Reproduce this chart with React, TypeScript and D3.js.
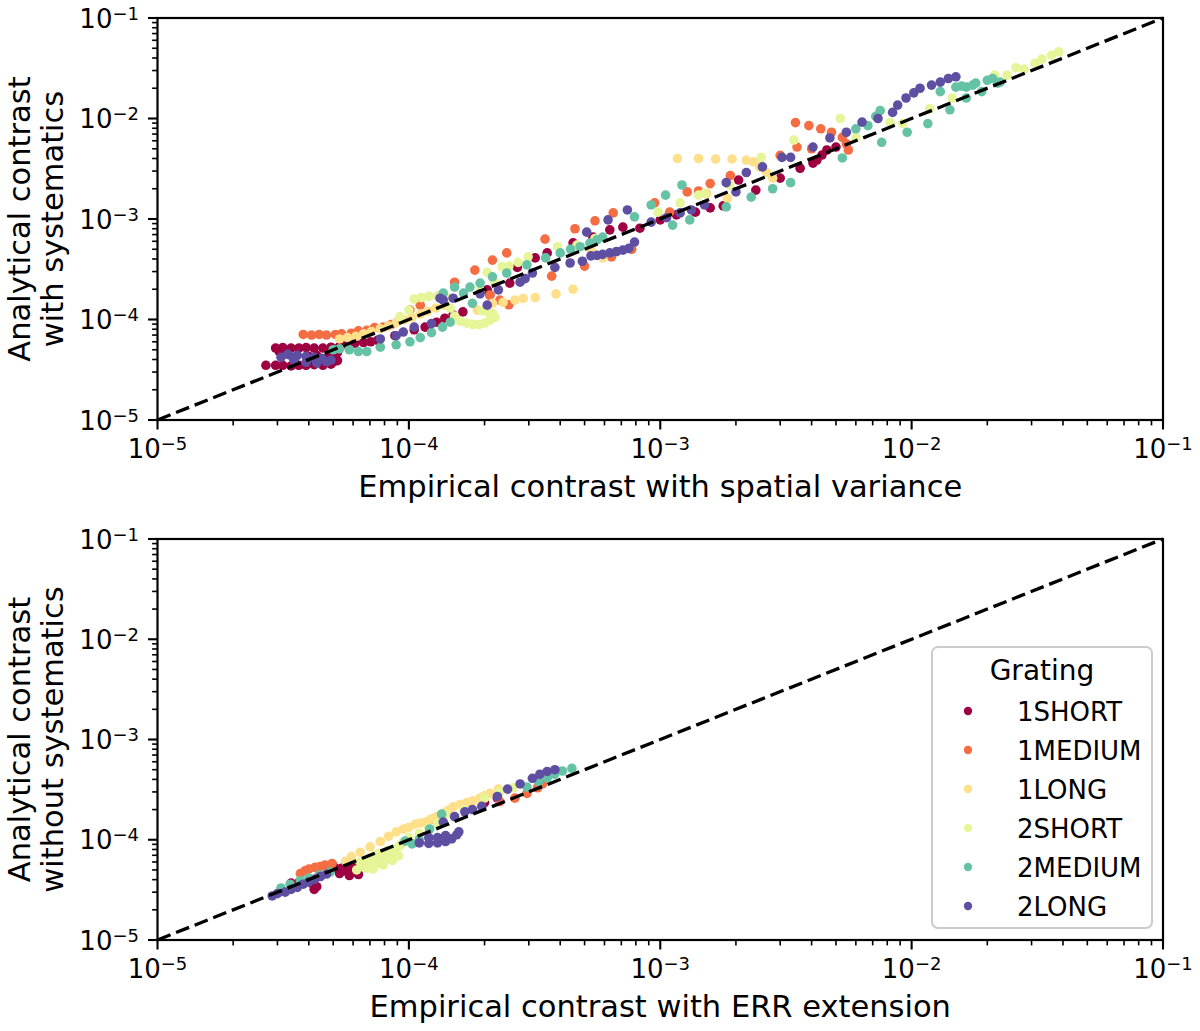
import * as d3 from 'd3';

type Pt = [number, number];

// legend order / hue colours (Spectral, 6 levels)
const gratings = ['1SHORT', '1MEDIUM', '1LONG', '2SHORT', '2MEDIUM', '2LONG'];
const colors = ['#9e0142', '#f46d43', '#fee08b', '#e6f598', '#66c2a5', '#5e4fa2'];
const decades = [1e-5, 1e-4, 1e-3, 1e-2, 1e-1];

// ---- top panel: empirical (spatial variance) vs analytical (with systematics)
const top1Short: Pt[] = [
  [2.7e-5, 3.5e-5], [2.95e-5, 3.5e-5], [3.15e-5, 3.5e-5], [3.4e-5, 3.45e-5], [3.65e-5, 3.5e-5], [3.9e-5, 3.5e-5],
  [4.2e-5, 3.55e-5], [4.55e-5, 3.5e-5], [4.9e-5, 3.6e-5],
  [2.95e-5, 5.2e-5], [3.15e-5, 5.25e-5], [3.4e-5, 5.2e-5], [3.65e-5, 5.2e-5], [3.9e-5, 5.25e-5], [4.2e-5, 5.2e-5],
  [4.55e-5, 5.2e-5], [4.9e-5, 5.3e-5], [5.3e-5, 5.4e-5], [5.6e-5, 5.7e-5], [6.1e-5, 5.8e-5], [6.6e-5, 5.9e-5],
  [7.05e-5, 6.0e-5], [7.5e-5, 6.2e-5],
  [4.3e-5, 4.4e-5], [4.7e-5, 4.1e-5], [5.1e-5, 4.3e-5], [4.55e-5, 3.8e-5], [4.0e-5, 4.3e-5], [5.2e-5, 3.9e-5],
  [4.9e-5, 4.6e-5], [5.2e-5, 4.7e-5], [4.4e-5, 3.9e-5], [5.0e-5, 3.8e-5], [3.05e-5, 4.8e-5],
  [8.8e-5, 6.9e-5], [1.05e-4, 7.9e-5], [1.16e-4, 8.4e-5], [1.29e-4, 9.4e-5], [1.39e-4, 1.03e-4], [1.5e-4, 1.11e-4],
  [1.64e-4, 1.19e-4], [2.05e-4, 1.97e-4], [2.1e-4, 1.75e-4], [2.52e-4, 2.3e-4], [2.7e-4, 3.3e-4], [3.18e-4, 4.1e-4],
  [3.55e-4, 4.6e-4], [4.5e-4, 5.8e-4], [5.4e-4, 6.6e-4], [6.3e-4, 7.8e-4], [7.1e-4, 8.3e-4], [8.3e-4, 8.1e-4],
  [1.0e-3, 9.8e-4], [1.16e-3, 1.1e-3], [1.38e-3, 1.17e-3], [1.58e-3, 1.29e-3], [1.78e-3, 1.35e-3], [2.05e-3, 2.44e-3],
  [2.4e-3, 1.94e-3], [3.0e-3, 2.55e-3], [3.6e-3, 3.2e-3], [4.05e-3, 3.6e-3], [4.2e-3, 3.86e-3], [4.4e-3, 4.33e-3],
  [4.6e-3, 4.86e-3], [5.0e-3, 5.2e-3],
];
const top1Medium: Pt[] = [
  [3.8e-5, 7.1e-5], [4.1e-5, 7.0e-5], [4.4e-5, 7.1e-5], [4.7e-5, 7.0e-5], [5.1e-5, 7.1e-5], [5.4e-5, 7.2e-5],
  [5.9e-5, 7.3e-5], [6.3e-5, 7.7e-5], [6.8e-5, 7.8e-5], [7.3e-5, 8.3e-5], [7.9e-5, 8.4e-5], [8.5e-5, 8.9e-5],
  [1.01e-4, 1.24e-4], [1.11e-4, 1.39e-4], [1.52e-4, 2.35e-4], [1.83e-4, 3.1e-4], [2.15e-4, 3.9e-4], [2.45e-4, 4.6e-4],
  [3.48e-4, 6.3e-4], [4.58e-4, 8.0e-4], [5.5e-4, 9.6e-4], [6.5e-4, 1.15e-3], [3.7e-4, 2.7e-4], [5.0e-4, 3.4e-4],
  [6.4e-4, 4.2e-4], [7.7e-4, 5.0e-4], [2.1e-4, 1.75e-4], [2.3e-4, 1.56e-4], [2.5e-4, 1.4e-4], [9.5e-4, 1.45e-3],
  [1.09e-3, 1.17e-3], [1.28e-3, 1.86e-3], [1.42e-3, 1.9e-3], [1.58e-3, 2.25e-3], [1.9e-3, 2.7e-3], [3.0e-3, 4.3e-3],
  [3.5e-3, 5.2e-3], [4.0e-3, 5.0e-3], [3.45e-3, 9.1e-3], [3.9e-3, 8.5e-3], [4.35e-3, 7.9e-3], [4.8e-3, 7.3e-3],
  [5.3e-3, 6.5e-3], [5.5e-3, 5.6e-3], [5.6e-3, 4.86e-3],
];
const top1Long: Pt[] = [
  [5.3e-5, 6.4e-5], [5.7e-5, 6.6e-5], [6.15e-5, 6.8e-5], [6.6e-5, 7.2e-5], [7.1e-5, 7.6e-5], [7.7e-5, 8.1e-5],
  [8.3e-5, 8.6e-5], [8.9e-5, 9.3e-5], [9.6e-5, 9.9e-5], [1.03e-4, 1.05e-4], [1.11e-4, 1.13e-4], [1.19e-4, 1.21e-4],
  [1.28e-4, 1.3e-4], [1.38e-4, 1.39e-4], [1.87e-4, 1.24e-4], [2.15e-4, 1.45e-4], [2.37e-4, 1.48e-4], [2.64e-4, 1.56e-4],
  [2.85e-4, 1.62e-4], [3.18e-4, 1.65e-4], [3.85e-4, 1.8e-4], [4.5e-4, 2.0e-4], [5.3e-4, 4.9e-4], [5.9e-4, 4.1e-4],
  [1.53e-3, 1.8e-3], [1.85e-3, 1.6e-3], [2.49e-3, 3.3e-3], [2.65e-3, 2.9e-3], [2.8e-3, 2.55e-3], [1.17e-3, 4.0e-3],
  [1.42e-3, 4.0e-3], [1.66e-3, 3.95e-3], [1.93e-3, 3.95e-3], [2.2e-3, 3.86e-3], [2.35e-3, 3.7e-3],
];
const top2Short: Pt[] = [
  [9.2e-5, 1.07e-4], [1.0e-4, 1.24e-4], [1.05e-4, 1.6e-4], [1.12e-4, 1.65e-4], [1.2e-4, 1.7e-4], [1.3e-4, 1.72e-4],
  [1.4e-4, 1.7e-4], [1.46e-4, 1.3e-4], [1.52e-4, 1.08e-4], [1.6e-4, 9.6e-5], [1.7e-4, 9.2e-5], [1.8e-4, 8.9e-5],
  [1.9e-4, 8.9e-5], [2.0e-4, 9.2e-5], [2.1e-4, 9.8e-5], [2.2e-4, 1.05e-4], [2.15e-4, 1.15e-4], [2.05e-4, 1.2e-4],
  [1.95e-4, 1.22e-4], [1.92e-4, 1.97e-4], [2.05e-4, 2.95e-4], [2.2e-4, 2.35e-4], [2.35e-4, 3.35e-4], [2.5e-4, 3.4e-4],
  [2.72e-4, 3.7e-4], [2.98e-4, 4.2e-4], [3.9e-4, 5.3e-4], [4.66e-4, 5.5e-4], [5.5e-4, 6.4e-4], [9.8e-4, 1.17e-3],
  [1.2e-3, 1.45e-3], [1.42e-3, 1.73e-3], [1.5e-3, 1.8e-3], [1.89e-3, 2.18e-3], [2.52e-3, 4.1e-3], [3.4e-3, 6.1e-3],
  [5.2e-3, 1.0e-2], [6.0e-3, 6.5e-3], [8.2e-3, 9.1e-3], [9.2e-3, 8.9e-3], [1.18e-2, 1.25e-2], [1.45e-2, 1.6e-2],
  [2.14e-2, 2.7e-2], [2.4e-2, 2.7e-2], [2.6e-2, 3.2e-2], [2.8e-2, 3.1e-2], [3.1e-2, 3.55e-2], [3.3e-2, 3.9e-2],
  [3.6e-2, 4.25e-2], [3.85e-2, 4.6e-2],
];
const top2Medium: Pt[] = [
  [5.0e-5, 5.0e-5], [5.3e-5, 5.1e-5], [5.8e-5, 5.0e-5], [6.3e-5, 4.8e-5], [6.8e-5, 4.8e-5], [7.7e-5, 5.3e-5],
  [8.9e-5, 5.6e-5], [1.01e-4, 6.0e-5], [1.11e-4, 6.6e-5], [1.23e-4, 7.4e-5], [1.36e-4, 8.4e-5], [1.46e-4, 9.4e-5],
  [1.37e-4, 1.83e-4], [1.52e-4, 2.1e-4], [1.65e-4, 1.83e-4], [1.75e-4, 2.1e-4], [1.92e-4, 2.3e-4], [1.79e-4, 1.45e-4],
  [2.15e-4, 2.66e-4], [2.45e-4, 2.9e-4], [2.95e-4, 3.5e-4], [3.5e-4, 4.1e-4], [4.0e-4, 4.6e-4], [4.4e-4, 5.0e-4],
  [4.8e-4, 5.3e-4], [5.25e-4, 5.75e-4], [5.6e-4, 6.2e-4], [5.9e-4, 6.6e-4], [7.9e-4, 1.05e-3], [9.2e-4, 1.38e-3],
  [1.05e-3, 1.73e-3], [1.22e-3, 2.18e-3], [1.12e-3, 8.7e-4], [1.31e-3, 9.8e-4], [1.83e-3, 1.32e-3], [2.3e-3, 1.65e-3],
  [2.8e-3, 2.0e-3], [3.3e-3, 2.3e-3], [5.3e-3, 4.05e-3], [6.0e-3, 7.9e-3], [6.7e-3, 8.5e-3], [7.2e-3, 1.05e-2],
  [7.5e-3, 1.2e-2], [7.6e-3, 5.8e-3], [9.6e-3, 7.3e-3], [1.16e-2, 8.9e-3], [1.42e-2, 1.22e-2], [1.3e-2, 1.85e-2],
  [1.5e-2, 2.05e-2], [1.65e-2, 1.6e-2], [1.65e-2, 2.05e-2], [1.8e-2, 2.25e-2], [1.9e-2, 1.85e-2], [2.0e-2, 2.4e-2],
  [2.1e-2, 2.5e-2], [2.2e-2, 2.25e-2], [1.75e-2, 2.15e-2], [1.58e-2, 2.1e-2], [2.25e-2, 2.3e-2],
];
const top2Long: Pt[] = [
  [3.1e-5, 4.2e-5], [3.3e-5, 4.5e-5], [3.45e-5, 4.2e-5], [3.6e-5, 4.4e-5], [3.9e-5, 4.3e-5], [4.2e-5, 4.2e-5],
  [4.5e-5, 4.1e-5], [3.5e-5, 3.9e-5], [3.9e-5, 3.75e-5], [4.3e-5, 3.7e-5], [4.7e-5, 3.8e-5], [4.9e-5, 3.95e-5],
  [7.7e-5, 6.4e-5], [8.9e-5, 6.9e-5], [9.5e-5, 7.5e-5], [1.05e-4, 8.4e-5], [1.23e-4, 9.1e-5], [1.33e-4, 1.63e-4],
  [1.37e-4, 1.56e-4], [1.5e-4, 1.63e-4], [1.92e-4, 1.8e-4], [2.05e-4, 1.39e-4], [2.27e-4, 1.97e-4], [2.77e-4, 2.35e-4],
  [2.9e-4, 2.55e-4], [3.1e-4, 2.9e-4], [3.81e-4, 3.3e-4], [4.38e-4, 3.65e-4], [4.9e-4, 3.8e-4], [5.1e-4, 7.4e-4],
  [6.2e-4, 9.8e-4], [5.3e-4, 4.3e-4], [5.6e-4, 4.35e-4], [5.9e-4, 4.45e-4], [6.3e-4, 4.6e-4], [6.7e-4, 4.75e-4],
  [7.1e-4, 4.9e-4], [7.5e-4, 5.1e-4], [7.4e-4, 1.23e-3], [7.9e-4, 5.9e-4], [9.2e-4, 9.3e-4], [1.06e-3, 1.03e-3],
  [1.2e-3, 1.15e-3], [1.33e-3, 1.23e-3], [1.5e-3, 1.38e-3], [1.83e-3, 2.3e-3], [2.0e-3, 1.86e-3], [2.2e-3, 2.9e-3],
  [2.55e-3, 3.3e-3], [3.05e-3, 4.1e-3], [3.3e-3, 4.1e-3], [4.05e-3, 5.2e-3], [4.73e-3, 6.4e-3], [5.5e-3, 7.3e-3],
  [6.35e-3, 9.2e-3], [7.35e-3, 1.0e-2], [8.4e-3, 1.15e-2], [8.8e-3, 1.36e-2], [9.5e-3, 1.6e-2], [1.02e-2, 1.8e-2],
  [1.08e-2, 2.0e-2], [1.2e-2, 2.15e-2], [1.3e-2, 2.3e-2], [1.4e-2, 2.5e-2], [1.5e-2, 2.6e-2],
];

// ---- bottom panel: empirical (ERR extension) vs analytical (without systematics)
const bot1Short: Pt[] = [
  [3.4e-5, 3.7e-5], [3.65e-5, 3.75e-5], [4.1e-5, 3.7e-5], [4.3e-5, 3.4e-5], [4.2e-5, 3.2e-5], [4.9e-5, 5.0e-5],
  [5.0e-5, 5.5e-5], [5.4e-5, 5.2e-5], [5.8e-5, 4.9e-5], [6.2e-5, 4.7e-5], [5.3e-5, 4.6e-5], [5.8e-5, 4.4e-5],
  [6.3e-5, 4.5e-5], [5.6e-5, 5.6e-5], [6.0e-5, 5.3e-5], [5.5e-5, 4.9e-5], [6.1e-5, 5.0e-5], [5.1e-5, 5.2e-5],
  [1.25e-4, 1.6e-4], [2.0e-4, 2.35e-4], [2.25e-4, 2.6e-4],
];
const bot1Medium: Pt[] = [
  [3.7e-5, 4.6e-5], [3.86e-5, 4.9e-5], [4.0e-5, 5.1e-5], [4.23e-5, 5.3e-5], [4.43e-5, 5.4e-5], [4.64e-5, 5.6e-5],
  [4.95e-5, 5.8e-5], [2.3e-4, 2.4e-4], [2.64e-4, 2.6e-4], [2.95e-4, 2.9e-4], [3.25e-4, 3.3e-4], [3.4e-4, 3.6e-4],
];
const bot1Long: Pt[] = [
  [5.6e-5, 6.1e-5], [5.9e-5, 6.8e-5], [6.4e-5, 7.5e-5], [7.0e-5, 8.5e-5], [7.7e-5, 9.6e-5], [8.3e-5, 1.08e-4],
  [8.9e-5, 1.2e-4], [9.5e-5, 1.28e-4], [1.0e-4, 1.33e-4], [1.06e-4, 1.43e-4], [1.11e-4, 1.47e-4], [1.16e-4, 1.5e-4],
  [1.22e-4, 1.6e-4], [1.29e-4, 1.7e-4], [1.34e-4, 1.78e-4], [1.39e-4, 1.87e-4], [1.44e-4, 1.98e-4], [1.5e-4, 2.13e-4],
  [1.6e-4, 2.25e-4], [1.7e-4, 2.35e-4], [1.8e-4, 2.45e-4], [1.92e-4, 2.6e-4], [2.0e-4, 2.75e-4], [2.1e-4, 2.9e-4],
  [2.27e-4, 3.2e-4],
];
const bot2Short: Pt[] = [
  [6.2e-5, 5.0e-5], [6.6e-5, 5.4e-5], [7.0e-5, 5.9e-5], [7.5e-5, 6.4e-5], [8.0e-5, 7.0e-5], [8.6e-5, 7.6e-5],
  [9.0e-5, 8.3e-5], [7.2e-5, 5.1e-5], [7.9e-5, 5.6e-5], [8.6e-5, 6.2e-5], [9.1e-5, 6.9e-5], [6.4e-5, 6.0e-5],
  [7.0e-5, 6.6e-5], [7.6e-5, 7.3e-5], [6.8e-5, 5.2e-5], [7.4e-5, 5.7e-5], [8.2e-5, 6.5e-5], [8.8e-5, 7.2e-5],
  [6.8e-5, 6.2e-5], [7.3e-5, 6.9e-5], [8.2e-5, 7.8e-5], [9.3e-5, 8.9e-5], [9.5e-5, 9.5e-5],
  [1.0e-4, 1.05e-4], [1.1e-4, 1.15e-4], [1.2e-4, 1.3e-4], [1.3e-4, 1.45e-4],
  [1.4e-4, 1.8e-4], [1.65e-4, 2.0e-4], [2.0e-4, 2.6e-4], [2.3e-4, 3.0e-4], [2.6e-4, 3.3e-4],
];
const bot2Medium: Pt[] = [
  [3.1e-5, 3.3e-5], [3.37e-5, 3.6e-5], [3.7e-5, 3.9e-5], [4.0e-5, 4.15e-5], [4.4e-5, 4.45e-5], [4.86e-5, 4.75e-5],
  [9.66e-5, 9.7e-5], [1.03e-4, 9.1e-5], [1.1e-4, 1.0e-4], [1.21e-4, 1.28e-4], [1.35e-4, 1.8e-4], [2.95e-4, 3.35e-4],
  [3.28e-4, 3.8e-4], [3.55e-4, 4.15e-4], [3.8e-4, 4.5e-4], [4.08e-4, 4.85e-4], [4.45e-4, 5.15e-4],
];
const bot2Long: Pt[] = [
  [2.86e-5, 2.75e-5], [3.0e-5, 2.9e-5], [3.22e-5, 3.0e-5], [3.4e-5, 3.2e-5], [3.6e-5, 3.35e-5], [3.8e-5, 3.6e-5],
  [4.0e-5, 3.8e-5], [4.23e-5, 4.05e-5], [4.45e-5, 4.3e-5], [4.7e-5, 4.55e-5], [1.1e-4, 9.3e-5], [1.2e-4, 9.2e-5],
  [1.3e-4, 9.3e-5], [1.4e-4, 9.6e-5], [1.48e-4, 1.02e-4], [1.55e-4, 1.12e-4], [1.58e-4, 1.2e-4], [1.2e-4, 1.05e-4],
  [1.3e-4, 1.05e-4], [1.4e-4, 1.1e-4], [1.37e-4, 1.5e-4], [1.52e-4, 1.7e-4], [1.67e-4, 1.9e-4], [1.79e-4, 2.0e-4],
  [1.95e-4, 2.15e-4], [2.25e-4, 2.7e-4], [2.47e-4, 3.2e-4], [2.77e-4, 3.6e-4], [3.1e-4, 4.1e-4], [3.32e-4, 4.5e-4],
  [3.55e-4, 4.8e-4], [3.81e-4, 5.0e-4],
];

const FONT = 'DejaVu Sans';
const FS = 26;      // tick + legend text
const LFS = 30.5;   // axis labels
const LEFT = 157.5, RIGHT = 1163;

interface PanelDef {
  top: number;
  bottom: number;
  series: Pt[][];
  ylab: string[];
  xlab: string;
  legend: boolean;
}

const panels: PanelDef[] = [
  { top: 18, bottom: 420, series: [top1Short, top1Medium, top1Long, top2Short, top2Medium, top2Long],
    ylab: ['Analytical contrast', 'with systematics'], xlab: 'Empirical contrast with spatial variance', legend: false },
  { top: 539, bottom: 940, series: [bot1Short, bot1Medium, bot1Long, bot2Short, bot2Medium, bot2Long],
    ylab: ['Analytical contrast', 'without systematics'], xlab: 'Empirical contrast with ERR extension', legend: true },
];

const isMajor = (t: number) => Math.abs(Math.log10(t) - Math.round(Math.log10(t))) < 1e-6;

function PowLabel({ x, y, v, anchor }: { x: number; y: number; v: number; anchor: string }) {
  const e = Math.round(Math.log10(v));
  return (
    <text x={x} y={y} textAnchor={anchor} fontFamily={FONT} fontSize={FS} fill="#000">
      <tspan>10</tspan>
      <tspan dy={-8} fontSize={18}>{'\u2212' + Math.abs(e)}</tspan>
    </text>
  );
}

function Panel({ p }: { p: PanelDef }) {
  const x = d3.scaleLog().domain([1e-5, 1e-1]).range([LEFT, RIGHT]);
  const y = d3.scaleLog().domain([1e-5, 1e-1]).range([p.bottom, p.top]);
  const ticks = x.ticks();
  const midY = (p.top + p.bottom) / 2;

  return (
    <g>
      {p.series.map((pts, i) => (
        <g key={i} fill={colors[i]}>
          {pts.map((d, j) => <circle key={j} cx={x(d[0])} cy={y(d[1])} r={4.8} />)}
        </g>
      ))}

      <line x1={x(1e-5)} y1={y(1e-5)} x2={x(1e-1)} y2={y(1e-1)}
        stroke="#000" strokeWidth={3.3} strokeDasharray="14,6" />

      {ticks.map((t, i) => {
        const maj = isMajor(t);
        const len = maj ? 9.5 : 5.4;
        const w = maj ? 2.1 : 1.6;
        return (
          <g key={i} stroke="#000" strokeWidth={w}>
            <line x1={x(t)} x2={x(t)} y1={p.bottom} y2={p.bottom + len} />
            <line x1={LEFT} x2={LEFT - len} y1={y(t)} y2={y(t)} />
          </g>
        );
      })}

      {decades.map(d => (
        <g key={d}>
          <PowLabel x={x(d)} y={p.bottom + 38} v={d} anchor="middle" />
          <PowLabel x={139} y={y(d) + 9.5} v={d} anchor="end" />
        </g>
      ))}

      <rect x={LEFT} y={p.top} width={RIGHT - LEFT} height={p.bottom - p.top}
        fill="none" stroke="#000" strokeWidth={2.2} />

      <text x={(LEFT + RIGHT) / 2} y={p.bottom + 77} textAnchor="middle" fontFamily={FONT} fontSize={LFS}>
        {p.xlab}
      </text>
      {p.ylab.map((s, i) => (
        <text key={i} transform={'translate(' + (30 + i * 33) + ',' + midY + ') rotate(-90)'}
          textAnchor="middle" fontFamily={FONT} fontSize={LFS}>{s}</text>
      ))}

      {p.legend && (
        <g>
          <rect x={932} y={647} width={220} height={281} rx={6} fill="#fff" fillOpacity={0.8}
            stroke="#cccccc" strokeWidth={2} />
          <text x={1042} y={680} textAnchor="middle" fontFamily={FONT} fontSize={28}>Grating</text>
          {gratings.map((g, i) => (
            <g key={g}>
              <circle cx={968} cy={711 + i * 39} r={4.2} fill={colors[i]} />
              <text x={1017} y={720.5 + i * 39} fontFamily={FONT} fontSize={FS}>{g}</text>
            </g>
          ))}
        </g>
      )}
    </g>
  );
}

export default function App() {
  return (
    <svg width={1200} height={1031} style={{ position: 'absolute', left: 0, top: 0, background: '#fff' }}>
      <rect width={1200} height={1031} fill="#fff" />
      {panels.map((p, i) => <Panel key={i} p={p} />)}
    </svg>
  );
}
